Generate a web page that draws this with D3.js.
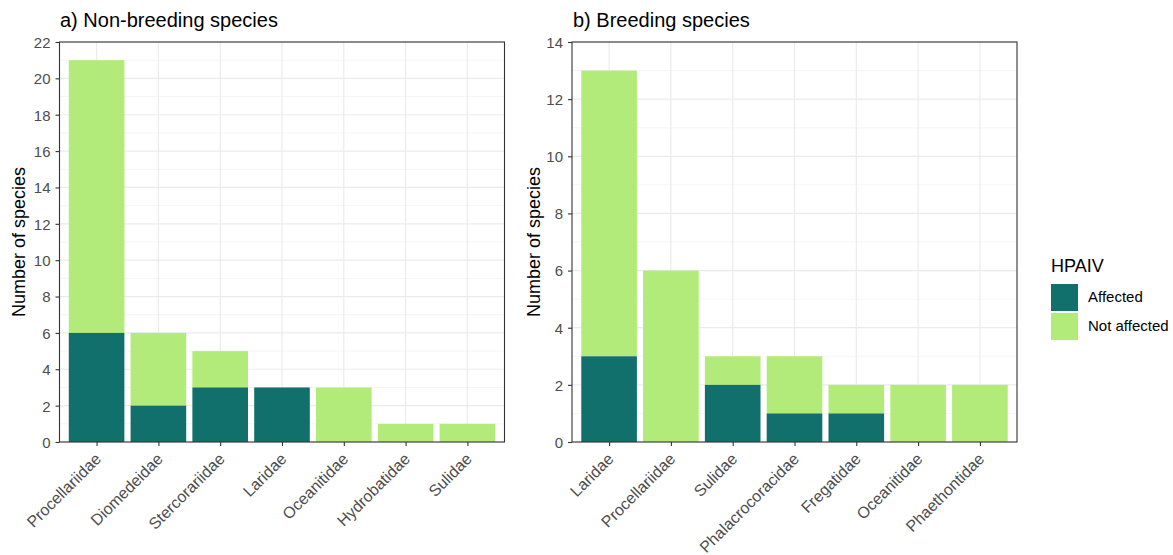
<!DOCTYPE html>
<html>
<head>
<meta charset="utf-8">
<script src="https://cdn.jsdelivr.net/npm/d3@7"></script>
<style>
  body { margin: 0; background: #fff; }
  svg { display: block; font-family: "Liberation Sans", Arial, sans-serif; }
</style>
</head>
<body>
<svg id="chart" width="1173" height="555"></svg>
<script>
// Seabird families and number of species, split by HPAIV status
const nonBreedingFamilies = ["Procellariidae", "Diomedeidae", "Stercorariidae", "Laridae", "Oceanitidae", "Hydrobatidae", "Sulidae"];
const nonBreedingAffected = [6, 2, 3, 3, 0, 0, 0];
const nonBreedingNotAffected = [15, 4, 2, 0, 3, 1, 1];
const nonBreedingTicks = [0, 2, 4, 6, 8, 10, 12, 14, 16, 18, 20, 22];

const breedingFamilies = ["Laridae", "Procellariidae", "Sulidae", "Phalacrocoracidae", "Fregatidae", "Oceanitidae", "Phaethontidae"];
const breedingAffected = [3, 0, 2, 1, 1, 0, 0];
const breedingNotAffected = [10, 6, 1, 2, 1, 2, 2];
const breedingTicks = [0, 2, 4, 6, 8, 10, 12, 14];

const statusLabels = ["Affected", "Not affected"];
const statusColors = ["#12706c", "#b3eb7a"];

const svg = d3.select("#chart");

function drawPanel(opts) {
  const { left, right, top, bottom, families, affected, notAffected, ticks, yMax, title, titleX, ylabX } = opts;
  const g = svg.append("g");

  // discrete x scale with 0.6 unit expansion on each side
  const n = families.length;
  const unit = (right - left) / (n - 1 + 1.2);
  const x = d3.scalePoint().domain(families).range([left + 0.6 * unit, right - 0.6 * unit]);
  const y = d3.scaleLinear().domain([0, yMax]).range([bottom, top]);
  const barW = 0.9 * unit;

  // minor grid
  const minors = d3.range(1, yMax, 2);
  g.selectAll(".ymin").data(minors).enter().append("line")
    .attr("x1", left).attr("x2", right)
    .attr("y1", d => y(d)).attr("y2", d => y(d))
    .attr("stroke", "#f2f2f2").attr("stroke-width", 0.8);
  // major grid
  g.selectAll(".ymaj").data(ticks).enter().append("line")
    .attr("x1", left).attr("x2", right)
    .attr("y1", d => y(d)).attr("y2", d => y(d))
    .attr("stroke", "#ebebeb").attr("stroke-width", 1.2);
  g.selectAll(".xmaj").data(families).enter().append("line")
    .attr("x1", d => x(d)).attr("x2", d => x(d))
    .attr("y1", top).attr("y2", bottom)
    .attr("stroke", "#ebebeb").attr("stroke-width", 1.2);

  // stacked bars: affected at the base, not affected on top
  const rows = families.map((f, i) => ({ f, a: affected[i], na: notAffected[i] }));
  g.selectAll(".na").data(rows.filter(d => d.na > 0)).enter().append("rect")
    .attr("x", d => x(d.f) - barW / 2).attr("width", barW)
    .attr("y", d => y(d.a + d.na)).attr("height", d => y(d.a) - y(d.a + d.na))
    .attr("fill", statusColors[1]);
  g.selectAll(".a").data(rows.filter(d => d.a > 0)).enter().append("rect")
    .attr("x", d => x(d.f) - barW / 2).attr("width", barW)
    .attr("y", d => y(d.a)).attr("height", d => y(0) - y(d.a))
    .attr("fill", statusColors[0]);

  // panel border
  g.append("rect").attr("x", left).attr("y", top)
    .attr("width", right - left).attr("height", bottom - top)
    .attr("fill", "none").attr("stroke", "#333333").attr("stroke-width", 1.1);

  // y axis
  const yAxis = g.append("g").attr("transform", `translate(${left},0)`)
    .call(d3.axisLeft(y).tickValues(ticks).tickSize(4).tickPadding(5).tickFormat(d3.format("d")));
  yAxis.select(".domain").remove();
  yAxis.selectAll("line").attr("stroke", "#333333").attr("stroke-width", 1.1);
  yAxis.selectAll("text").attr("fill", "#4d4d4d").style("font-size", "15px").attr("dy", "0.36em");

  // x axis
  const xAxis = g.append("g").attr("transform", `translate(0,${bottom})`)
    .call(d3.axisBottom(x).tickSize(4).tickPadding(4));
  xAxis.select(".domain").remove();
  xAxis.selectAll("line").attr("stroke", "#333333").attr("stroke-width", 1.1);
  xAxis.selectAll("text")
    .attr("fill", "#4d4d4d").style("font-size", "16px")
    .attr("text-anchor", "end")
    .attr("dy", "0")
    .attr("x", 0).attr("y", 0)
    .attr("transform", "translate(5,18) rotate(-45)");

  // titles
  svg.append("text").attr("x", titleX).attr("y", 27)
    .style("font-size", "20px").attr("fill", "#000").text(title);
  svg.append("text")
    .attr("transform", `translate(${ylabX},${(top + bottom) / 2}) rotate(-90)`)
    .attr("text-anchor", "middle").style("font-size", "18px").attr("fill", "#000")
    .text("Number of species");
}

drawPanel({
  left: 59.5, right: 504.5, top: 42, bottom: 442,
  families: nonBreedingFamilies, affected: nonBreedingAffected, notAffected: nonBreedingNotAffected,
  ticks: nonBreedingTicks, yMax: 22, title: "a) Non-breeding species", titleX: 60, ylabX: 25
});

drawPanel({
  left: 572, right: 1017, top: 42, bottom: 442,
  families: breedingFamilies, affected: breedingAffected, notAffected: breedingNotAffected,
  ticks: breedingTicks, yMax: 14, title: "b) Breeding species", titleX: 573, ylabX: 540
});

// legend
const legend = svg.append("g");
legend.append("text").attr("x", 1051).attr("y", 272)
  .style("font-size", "18px").attr("fill", "#000").text("HPAIV");
const keys = legend.selectAll(".key").data(statusLabels).enter().append("g")
  .attr("transform", (d, i) => `translate(1051,${284 + i * 29})`);
keys.append("rect").attr("width", 27).attr("height", 27)
  .attr("fill", (d, i) => statusColors[i]);
keys.append("text").attr("x", 37).attr("y", 18)
  .style("font-size", "15px").attr("fill", "#000").text(d => d);
</script>
</body>
</html>
